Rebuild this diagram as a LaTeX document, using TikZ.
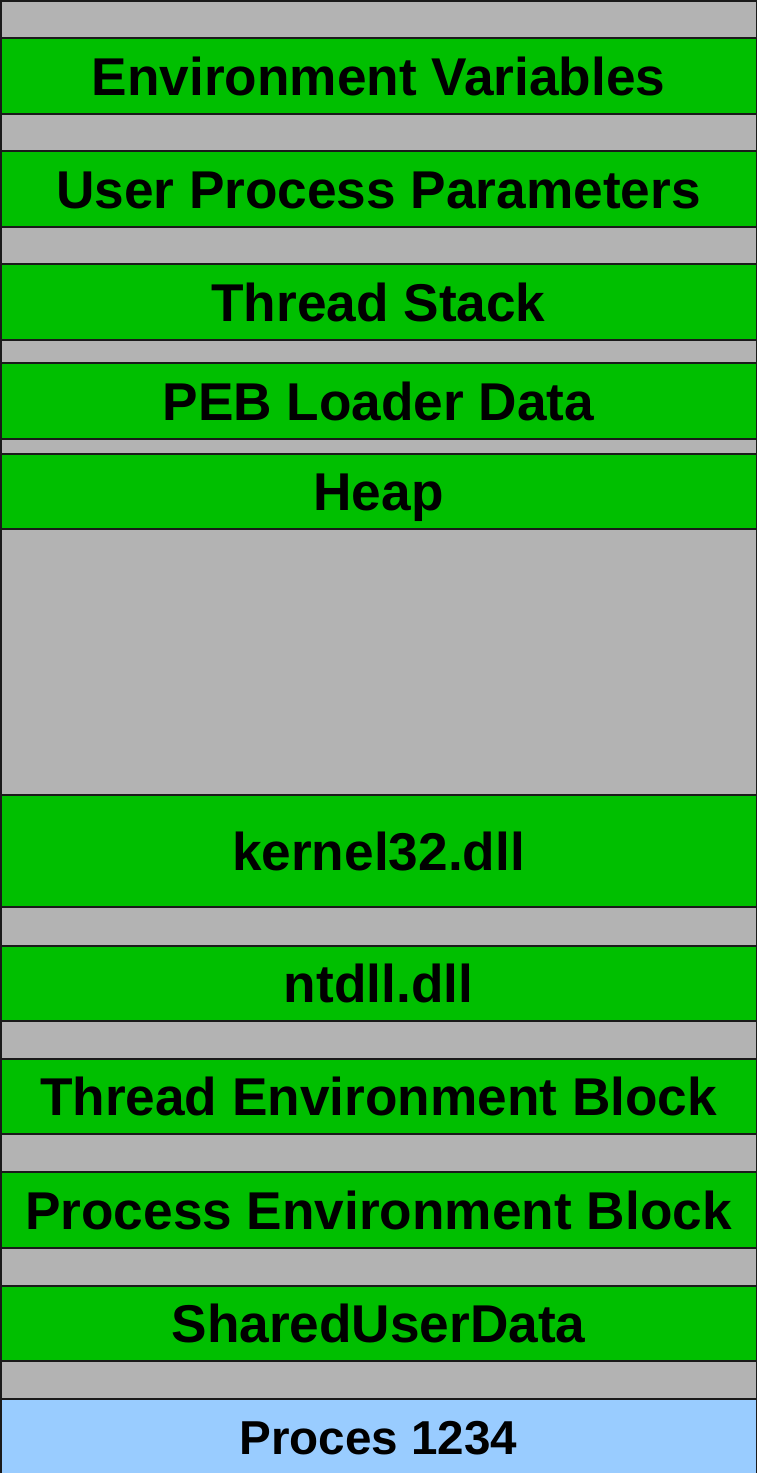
\documentclass[tikz,border=0pt]{standalone}
\usepackage{fontspec}
\setmainfont{Liberation Sans}
\definecolor{bggray}{HTML}{B3B3B3}
\definecolor{bargreen}{HTML}{00BF00}
\definecolor{barblue}{HTML}{99CCFF}
\definecolor{edge}{HTML}{1A1A1A}
\begin{document}
\begin{tikzpicture}[x=1pt,y=-1pt,
  bar/.style={draw=edge, line width=2pt, fill=bargreen, rectangle, inner sep=0pt,
    minimum width=756pt, text height=38.1pt, text depth=0pt,
    font=\fontsize{53.2}{60}\selectfont\bfseries, text=black},
  procbar/.style={bar, fill=barblue, text height=34.1pt,
    font=\fontsize{47.6}{54}\selectfont\bfseries}]
\useasboundingbox (0,0) rectangle (757,1473);
\fill[bggray] (0,0) rectangle (757,1473);
\node[bar, minimum height=76pt] (env) at (378.5,76) {Environment Variables};
\node[bar, minimum height=76pt] (upp) at (378.5,189) {User Process Parameters};
\node[bar, minimum height=76pt] (tstack) at (378.5,302) {Thread Stack};
\node[bar, minimum height=76pt] (ldr) at (378.5,401) {PEB Loader Data};
\node[bar, minimum height=75pt] (heap) at (378.5,491.5) {Heap};
\node[bar, minimum height=112pt] (k32) at (378.5,851) {kernel32.dll};
\node[bar, minimum height=75pt] (ntdll) at (378.5,983.5) {ntdll.dll};
\node[bar, minimum height=75pt] (teb) at (378.5,1096.5) {Thread Environment Block};
\node[bar, minimum height=76pt] (peb) at (378.5,1210) {Process Environment Block};
\node[bar, minimum height=75pt] (sud) at (378.5,1323.5) {SharedUserData};
\node[procbar, minimum height=76pt] (proc) at (378.5,1437) {Proces 1234};
\draw[edge, line width=1.5pt] (0.75,1473) -- (0.75,0.75) -- (756.25,0.75) -- (756.25,1473);
\end{tikzpicture}
\end{document}
